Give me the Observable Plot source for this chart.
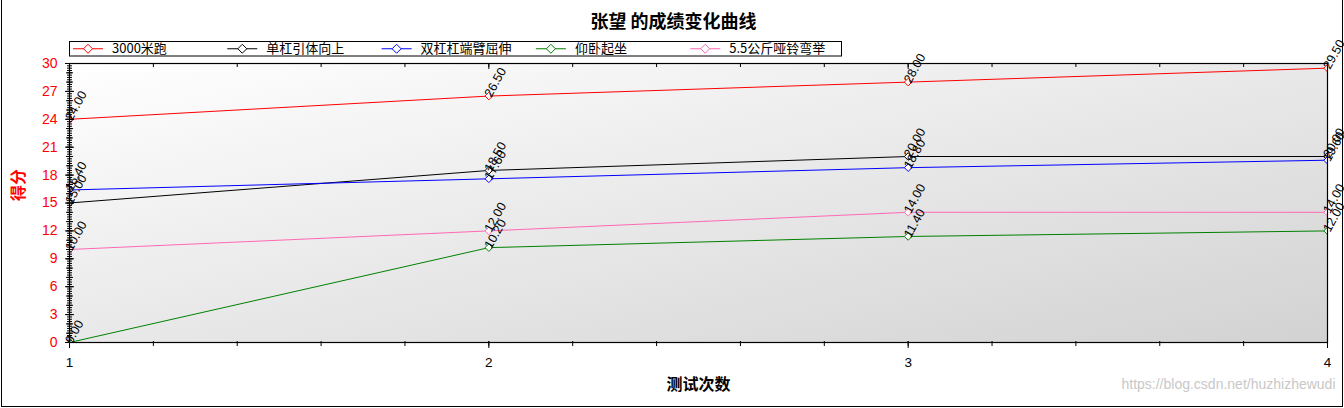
<!DOCTYPE html>
<html>
<head>
<meta charset="utf-8">
<script src="https://cdn.jsdelivr.net/npm/d3@7"></script>
<script src="https://cdn.jsdelivr.net/npm/@observablehq/plot@0.6"></script>
<style>
html, body { margin: 0; padding: 0; background: #fff; }
#chart { position: relative; width: 1344px; height: 408px; overflow: hidden; }
#chart svg { display: block; }
</style>
</head>
<body>
<div id="chart"></div>
<script>
// ---- data ----
const chartTitle = "张望 的成绩变化曲线";
const xTitle = "测试次数";
const yTitle = "得分";
const watermark = "https://blog.csdn.net/huzhizhewudi";
const tests = [1, 2, 3, 4];
const seriesNames = ["3000米跑", "单杠引体向上", "双杠杠端臂屈伸", "仰卧起坐", "5.5公斤哑铃弯举"];
const seriesColors = ["#ff0000", "#000000", "#0000ff", "#008000", "#ff69b4"];
const run3000 = [24.0, 26.5, 28.0, 29.5];
const pullUp = [15.0, 18.5, 20.0, 20.0];
const dips = [16.4, 17.6, 18.8, 19.6];
const situps = [0.0, 10.2, 11.4, 12.0];
const dumbbellCurl = [10.0, 12.0, 14.0, 14.0];
const yLabelTicks = [0, 3, 6, 9, 12, 15, 18, 21, 24, 27, 30];
const xLabelTicks = [1, 2, 3, 4];

const seriesValues = [run3000, pullUp, dips, situps, dumbbellCurl];
const rows = seriesNames.flatMap((name, i) =>
  tests.map((t, j) => ({ test: t, score: seriesValues[i][j], series: name }))
);

const yUnitTicks = d3.range(0, 31, 1);
const yMinorTicks = d3.range(0, 30.001, 0.25);
const xMinorTicks = d3.range(1, 4.001, 0.2);

const fontLatin = "'Liberation Sans', Arial, 'Noto Sans CJK SC', sans-serif";
const fontCJK = "'Noto Sans CJK SC', 'Liberation Sans', sans-serif";

const plot = Plot.plot({
  width: 1344,
  height: 408,
  marginLeft: 69,
  marginRight: 17,
  marginTop: 63,
  marginBottom: 66,
  style: { fontFamily: fontLatin, background: "transparent", overflow: "visible", color: "black" },
  x: { domain: [1, 4], label: null },
  y: { domain: [0, 30], label: null },
  color: { domain: seriesNames, range: seriesColors },
  marks: [
    Plot.frame({ fill: "url(#plotBg)" }),
    Plot.line(rows, { x: "test", y: "score", z: "series", stroke: "series", strokeWidth: 1 }),
    Plot.dot(rows, { x: "test", y: "score", stroke: "series", fill: "white", symbol: "diamond2", r: 3.4, strokeWidth: 1, clip: true }),
    Plot.text(rows, { x: "test", y: "score", text: d => d.score.toFixed(2), rotate: -61, textAnchor: "start", dx: -1, fontSize: 12.5, fill: "black", fontFamily: fontLatin }),
    Plot.frame({ stroke: "black", strokeWidth: 1.2 }),
    // y axis ticks (ladder)
    Plot.axisY({ ticks: yMinorTicks, tickSize: 5, dx: 3, fill: "none", stroke: "black", label: null }),
    Plot.axisY({ ticks: yUnitTicks, tickSize: 7, dx: 4, fill: "none", stroke: "black", label: null }),
    Plot.axisY({ ticks: yLabelTicks, tickSize: 9, dx: 5, fill: "none", stroke: "black", label: null }),
    Plot.axisY({ ticks: yLabelTicks, tickSize: 0, tickPadding: 12, fill: "#ff0000", fontSize: 14, label: null }),
    // x axis ticks bottom
    Plot.axisX({ ticks: xMinorTicks, tickSize: 5, dy: -1, fill: "none", stroke: "black", label: null }),
    Plot.axisX({ ticks: xLabelTicks, tickSize: 7, dy: -1, fill: "none", stroke: "black", label: null }),
    Plot.axisX({ ticks: xLabelTicks, tickFormat: "d", tickSize: 0, tickPadding: 15, fill: "black", fontSize: 13.5, label: null }),
    // x axis ticks top (inside)
    Plot.axisX({ anchor: "top", ticks: xMinorTicks, tickSize: 3, dy: 3, fill: "none", stroke: "black", label: null }),
    Plot.axisX({ anchor: "top", ticks: xLabelTicks, tickSize: 5, dy: 5, fill: "none", stroke: "black", label: null }),
    // titles
    Plot.text([chartTitle], { frameAnchor: "top", dx: -25, dy: -48, fontSize: 18, fontWeight: "bold", fill: "black", fontFamily: fontCJK }),
    Plot.text([xTitle], { frameAnchor: "bottom", dx: 0, dy: 47, fontSize: 16, fontWeight: "bold", fill: "black", fontFamily: fontCJK }),
    Plot.text([yTitle], { frameAnchor: "left", dx: -51, dy: -2, rotate: -90, fontSize: 16, fontWeight: "bold", fill: "#ff0000", fontFamily: fontCJK }),
    Plot.text([watermark], { frameAnchor: "bottom-right", textAnchor: "end", dx: 8, dy: 46, fontSize: 14, fill: "#c8c8c8", fontFamily: fontLatin })
  ]
});

const svg = d3.select(plot);
// gradient background for plot area
const defs = svg.insert("defs", ":first-child");
const grad = defs.append("linearGradient").attr("id", "plotBg")
  .attr("x1", 0).attr("y1", 0).attr("x2", 1).attr("y2", 1);
grad.append("stop").attr("offset", "0%").attr("stop-color", "#ffffff");
grad.append("stop").attr("offset", "100%").attr("stop-color", "#d2d2d2");

// legend
const lg = svg.append("g").attr("font-family", fontCJK).attr("font-size", 13).attr("text-anchor", "start");
lg.append("rect").attr("x", 69.5).attr("y", 41.5).attr("width", 772).attr("height", 14.5)
  .attr("fill", "white").attr("stroke", "black");
seriesNames.forEach((name, i) => {
  const x0 = 73 + i * 154.3;
  const cy = 48.75;
  lg.append("line").attr("x1", x0).attr("x2", x0 + 30).attr("y1", cy).attr("y2", cy)
    .attr("stroke", seriesColors[i]);
  const cx = x0 + 15;
  lg.append("path").attr("d", `M${cx},${cy - 4.5}L${cx + 4.5},${cy}L${cx},${cy + 4.5}L${cx - 4.5},${cy}Z`)
    .attr("fill", "white").attr("stroke", seriesColors[i]);
  lg.append("text").attr("x", x0 + 39).attr("y", cy).attr("dy", "0.36em")
    .attr("text-anchor", "start").attr("fill", "black").text(name);
});

// outer border
svg.append("rect").attr("x", 1.5).attr("y", -1).attr("width", 1341).attr("height", 407.5)
  .attr("fill", "none").attr("stroke", "black");

document.getElementById("chart").appendChild(plot);
</script>
</body>
</html>
